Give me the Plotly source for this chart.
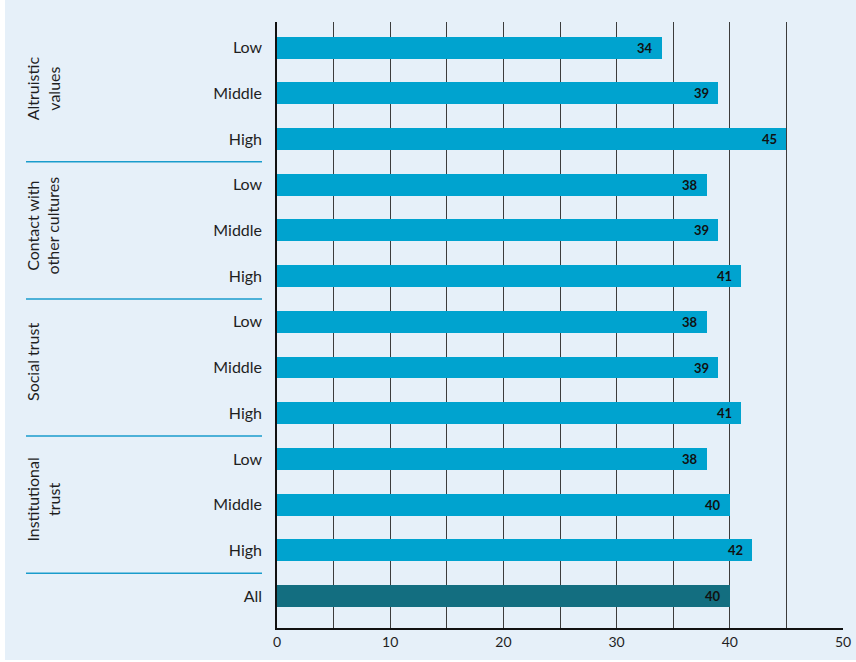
import plotly.graph_objects as go

# Share of respondents by attitude level (percent)
groups = ["Altruistic<br>values", "Contact with<br>other cultures", "Social trust", "Institutional<br>trust"]
levels = ["Low", "Middle", "High"]
altruistic = [34, 39, 45]
contact = [38, 39, 41]
social_trust = [38, 39, 41]
institutional_trust = [38, 40, 42]
overall_label = "All"
overall_value = 40

series = [altruistic, contact, social_trust, institutional_trust]

labels, values, colors = [], [], []
for vals in series:
    labels += levels
    values += vals
    colors += ["#00a3cf"] * len(vals)
labels.append(overall_label)
values.append(overall_value)
colors.append("#136e80")

positions = list(range(len(values)))

W, H = 856, 662
ML, MR, MT, MB = 277, 13, 22, 34
PW = W - ML - MR
PH = H - MT - MB


def px_x(p):
    """pixel column -> paper x"""
    return (p - ML) / PW


def px_y(p):
    """pixel row -> paper y"""
    return (H - MB - p) / PH


FONT = "Lato, 'Open Sans', sans-serif"
TEXT = "#1f1f1f"

fig = go.Figure(
    go.Bar(
        x=values,
        y=positions,
        orientation="h",
        width=0.48,
        marker=dict(color=colors, line=dict(width=0)),
        hoverinfo="skip",
    )
)

# value labels at the inner end of each bar
annotations = []
for pos, val in zip(positions, values):
    annotations.append(dict(
        x=val, y=pos, xref="x", yref="y", text=f"<b>{val}</b>",
        showarrow=False, xanchor="right", yanchor="middle", xshift=-7,
        font=dict(family=FONT, size=13, color="#111111"),
    ))

# rotated group titles on the left
for i, g in enumerate(groups):
    annotations.append(dict(
        x=px_x(21), y=i * 3 + 1, xref="paper", yref="y", text=g,
        textangle=-90, showarrow=False, xanchor="left", yanchor="middle",
        align="center", yshift=5,
        font=dict(family=FONT, size=16, color=TEXT),
    ))

shapes = [
    # light panel behind the whole chart
    dict(type="rect", xref="paper", yref="paper", x0=px_x(5), x1=px_x(W + 5),
         y0=px_y(660), y1=px_y(-5), fillcolor="#e6f0f9", line=dict(width=0),
         layer="below"),
]
# separators between groups
for k in range(1, len(groups) + 1):
    shapes.append(dict(
        type="line", xref="paper", yref="y", x0=px_x(26), x1=px_x(262),
        y0=k * 3 - 0.5, y1=k * 3 - 0.5,
        line=dict(color="#1a9ccc", width=1.5),
    ))

fig.update_layout(
    width=W, height=H,
    margin=dict(l=ML, r=MR, t=MT, b=MB, autoexpand=False),
    paper_bgcolor="white",
    plot_bgcolor="rgba(0,0,0,0)",
    showlegend=False,
    bargap=0,
    font=dict(family=FONT, color=TEXT),
    annotations=annotations,
    shapes=shapes,
)

fig.update_xaxes(
    range=[0, 50], dtick=10, tick0=0,
    showgrid=True, gridcolor="#3c3c3c", gridwidth=1,
    minor=dict(dtick=5, showgrid=True, gridcolor="#3c3c3c", gridwidth=1),
    showline=True, linecolor="#111111", linewidth=1.5,
    zeroline=False, ticks="", automargin=False,
    tickfont=dict(family=FONT, size=14, color=TEXT),
    fixedrange=True,
)
fig.update_yaxes(
    range=[12.7, -0.56],
    tickvals=positions, ticktext=labels,
    showgrid=False, zeroline=False,
    showline=True, linecolor="#111111", linewidth=1.5,
    ticks="", ticklabelstandoff=10, automargin=False,
    tickfont=dict(family=FONT, size=16, color=TEXT),
    fixedrange=True,
)

fig.write_html("out.html")
